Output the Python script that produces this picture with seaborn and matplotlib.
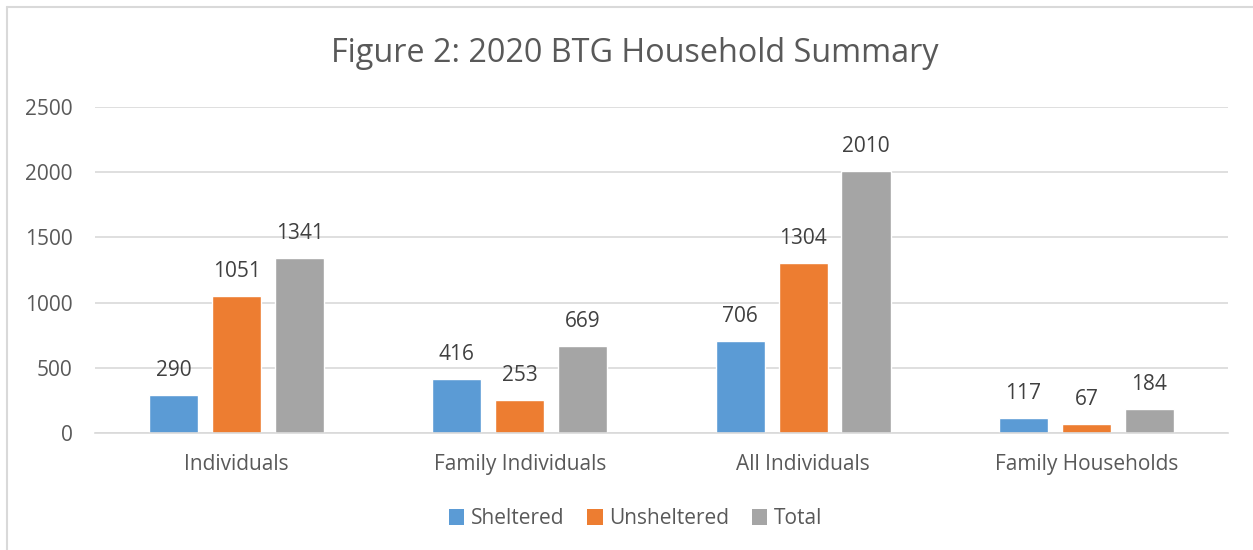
import matplotlib
matplotlib.use('Agg')
import matplotlib.pyplot as plt
import seaborn as sns
import pandas as pd
from matplotlib.lines import Line2D
from matplotlib.patches import Patch

categories = ['Individuals', 'Family Individuals', 'All Individuals', 'Family Households']
sheltered = [290, 416, 706, 117]
unsheltered = [1051, 253, 1304, 67]
total = [1341, 669, 2010, 184]
series = ['Sheltered', 'Unsheltered', 'Total']
colors = ['#5B9BD5', '#ED7D31', '#A5A5A5']
yticks = [0, 500, 1000, 1500, 2000, 2500]

df = pd.DataFrame({
    'category': categories * 3,
    'series': [s for s in series for _ in categories],
    'value': sheltered + unsheltered + total,
})

sns.set_style('white')
plt.rcParams['font.family'] = ['Open Sans', 'DejaVu Sans']
txt = '#595959'

fig = plt.figure(figsize=(12.53, 5.5), dpi=100)
ax = fig.add_axes([0.0758, 0.2127, 0.9042, 0.5928])

sns.barplot(data=df, x='category', y='value', hue='series', hue_order=series,
            order=categories, palette=colors, width=0.667, gap=0.22,
            saturation=1, ax=ax, legend=False)

for cont in ax.containers:
    ax.bar_label(cont, padding=10, fontsize=15, color='#404040')

ax.set_ylim(0, 2500)
ax.set_yticks(yticks)
ax.set_xlim(-0.5, 3.5)
ax.grid(axis='y', color='#D9D9D9', linewidth=1.2)
ax.set_axisbelow(True)
for s in ['top', 'right', 'left']:
    ax.spines[s].set_visible(False)
ax.spines['bottom'].set_color('#D9D9D9')
ax.spines['bottom'].set_linewidth(1.2)
ax.tick_params(axis='both', length=0, labelsize=15, labelcolor=txt)
ax.tick_params(axis='y', pad=16)
ax.tick_params(axis='x', pad=15)
ax.set_xlabel('')
ax.set_ylabel('')

fig.text(0.507, 0.903, 'Figure 2: 2020 BTG Household Summary', ha='center', va='center',
         fontsize=23.3, color=txt)

handles = [Patch(facecolor=c, edgecolor='none') for c in colors]
fig.legend(handles, series, loc='center', bbox_to_anchor=(0.507, 0.057), ncol=3,
           frameon=False, fontsize=15, labelcolor=txt, handlelength=0.75, handleheight=0.75,
           handletextpad=0.3, columnspacing=1.1)

# chart border (left and top edges visible)
fig.add_artist(Line2D([0.0052, 0.0052], [0, 0.987], color='#D9D9D9', linewidth=1.5))
fig.add_artist(Line2D([0.0052, 1.0], [0.987, 0.987], color='#D9D9D9', linewidth=1.5))

fig.savefig('out.png', dpi=100)
